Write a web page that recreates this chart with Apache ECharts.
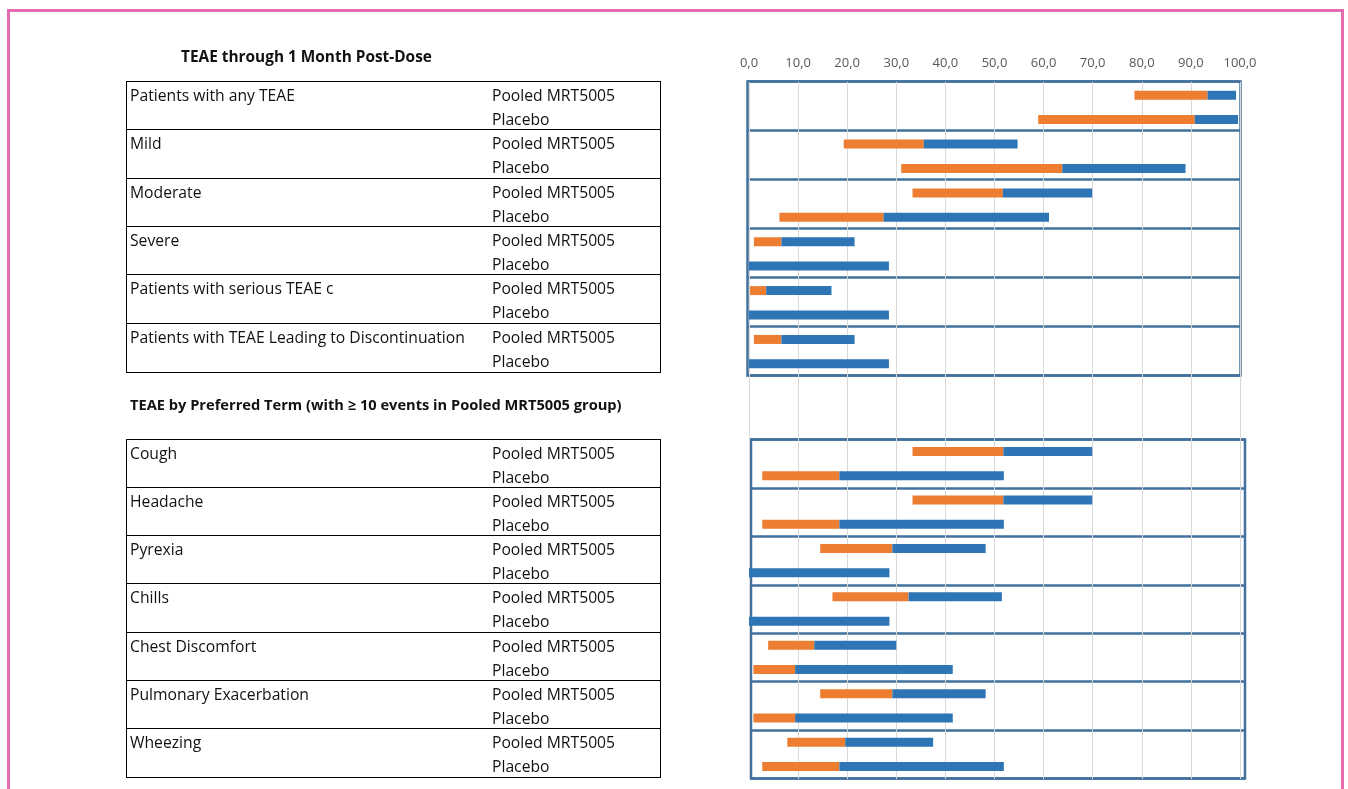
<!DOCTYPE html>
<html>
<head>
<meta charset="utf-8">
<script src="https://cdn.jsdelivr.net/npm/echarts@6/dist/echarts.min.js"></script>
<style>
  html, body { margin: 0; padding: 0; background: #fff; }
  #page { position: relative; width: 1348px; height: 789px; overflow: hidden; font-family: "Open Sans", sans-serif; color: #111; }
  #chart { position: absolute; left: 0; top: 0; width: 1348px; height: 789px; }
  #frame { position: absolute; left: 7px; top: 9px; width: 1331px; height: 800px; border: 3px solid #E46DAF; }
  .title { position: absolute; font-weight: bold; line-height: 20px; white-space: nowrap; }
  .tbl { position: absolute; border: 1px solid #000; box-sizing: border-box; }
  .row { position: absolute; left: 0; right: 0; box-sizing: border-box; }
  .row.sep { border-top: 1px solid #000; }
  .txt { position: absolute; font-size: 15.7px; line-height: 24px; white-space: nowrap; }
</style>
</head>
<body>
<div id="page">
  <div id="frame"></div>
  <div id="chart"></div>
</div>
<script>
// ---------------- DATA ----------------
const sectionTitles = ['TEAE through 1 Month Post-Dose', 'TEAE by Preferred Term (with \u2265 10 events in Pooled MRT5005 group)'];
const arms = ['Pooled MRT5005', 'Placebo'];
const xTicks = [0, 100, 10]; // min, max, interval

const groupsTop = ['Patients with any TEAE', 'Mild', 'Moderate', 'Severe', 'Patients with serious TEAE c', 'Patients with TEAE Leading to Discontinuation'];
const pooledTopLow  = [78.5, 19.3, 33.3, 1.0, 0.2, 1.0];
const pooledTopMid  = [93.4, 35.6, 51.7, 6.6, 3.5, 6.6];
const pooledTopHigh = [99.2, 54.7, 69.9, 21.5, 16.8, 21.5];
const placeboTopLow  = [58.9, 31.0, 6.2, 0, 0, 0];
const placeboTopMid  = [90.8, 63.8, 27.4, 0, 0, 0];
const placeboTopHigh = [99.6, 88.9, 61.1, 28.5, 28.5, 28.5];

const groupsBottom = ['Cough', 'Headache', 'Pyrexia', 'Chills', 'Chest Discomfort', 'Pulmonary Exacerbation', 'Wheezing'];
const pooledBotLow  = [33.3, 33.3, 14.5, 17.0, 3.9, 14.5, 7.8];
const pooledBotMid  = [51.8, 51.8, 29.2, 32.5, 13.3, 29.2, 19.6];
const pooledBotHigh = [69.9, 69.9, 48.2, 51.5, 30.0, 48.2, 37.5];
const placeboBotLow  = [2.7, 2.7, 0, 0, 0.9, 0.9, 2.7];
const placeboBotMid  = [18.4, 18.4, 0, 0, 9.4, 9.4, 18.4];
const placeboBotHigh = [51.9, 51.9, 28.6, 28.6, 41.5, 41.5, 51.9];

// ---------------- TABLE (HTML text) ----------------
const page = document.getElementById('page');
function addTitle(text, left, top, size) {
  const d = document.createElement('div');
  d.className = 'title'; d.textContent = text;
  d.style.left = left + 'px'; d.style.top = top + 'px'; d.style.fontSize = size + 'px';
  page.appendChild(d);
}
function addTable(groups, left, top, width, height) {
  const t = document.createElement('div');
  t.className = 'tbl';
  t.style.left = left + 'px'; t.style.top = top + 'px';
  t.style.width = width + 'px'; t.style.height = height + 'px';
  const rowH = (height - 2) / groups.length;
  groups.forEach((g, i) => {
    const r = document.createElement('div');
    r.className = 'row' + (i > 0 ? ' sep' : '');
    r.style.top = (i * rowH - (i > 0 ? 1 : 0)) + 'px';
    r.style.height = rowH + 'px';
    const a = document.createElement('div');
    a.className = 'txt'; a.textContent = g; a.style.left = '3px'; a.style.top = '1px';
    r.appendChild(a);
    arms.forEach((arm, j) => {
      const b = document.createElement('div');
      b.className = 'txt'; b.textContent = arm;
      b.style.left = '365px'; b.style.top = (1 + j * 24) + 'px';
      r.appendChild(b);
    });
    t.appendChild(r);
  });
  page.appendChild(t);
}
addTitle(sectionTitles[0], 181, 47, 15.4);
addTitle(sectionTitles[1], 130, 394, 14.65);
addTable(groupsTop, 126, 81, 535, 292);
addTable(groupsBottom, 126, 439, 535, 339);

// ---------------- CHART ----------------
const ORANGE = '#ED7D31', BLUE = '#2E75B6', BOX = '#41719C';
const chart = echarts.init(document.getElementById('chart'), null, { renderer: 'canvas' });

function diff(a, b) { return a.map((v, i) => +(v - b[i]).toFixed(2)); }
function rangeSeries(axisIdx, stack, low, mid, high) {
  const common = { type: 'bar', xAxisIndex: axisIdx, yAxisIndex: axisIdx, stack: stack, barWidth: 9, barGap: '170%', silent: true };
  return [
    Object.assign({}, common, { name: stack + '-base', data: low, itemStyle: { color: 'transparent' } }),
    Object.assign({}, common, { name: stack + '-lower', data: diff(mid, low), itemStyle: { color: ORANGE } }),
    Object.assign({}, common, { name: stack + '-upper', data: diff(high, mid), itemStyle: { color: BLUE } })
  ];
}

const boxYAxis = (gi, data) => ({
  gridIndex: gi, type: 'category', data: data, inverse: true,
  axisLabel: { show: false }, axisTick: { show: false }, axisLine: { show: false },
  splitLine: { show: true, lineStyle: { color: BOX, width: 2.5 } }
});
const hiddenX = (gi, min, max) => ({ gridIndex: gi, type: 'value', min: min, max: max, show: false });

const option = {
  animation: false,
  grid: [
    { left: 749, top: 82, width: 491, height: 697 },                                   // gridlines
    { left: 747.5, top: 81.5, width: 493, height: 294, show: true, borderColor: BOX, borderWidth: 2.5, backgroundColor: 'transparent' },
    { left: 751, top: 439.5, width: 494, height: 339, show: true, borderColor: BOX, borderWidth: 2.5, backgroundColor: 'transparent' },
    { left: 749, top: 83, width: 491, height: 293 },                                   // bars top
    { left: 749, top: 439.5, width: 491, height: 339 }                                 // bars bottom
  ],
  xAxis: [
    { gridIndex: 0, type: 'value', position: 'top', min: xTicks[0], max: xTicks[1], interval: xTicks[2],
      axisLine: { show: false }, axisTick: { show: false },
      axisLabel: { margin: 12, color: '#595959', fontSize: 13, fontFamily: '"Open Sans", sans-serif',
        formatter: v => v.toFixed(1).replace('.', ',') },
      splitLine: { show: true, lineStyle: { color: '#D9D9D9', width: 1 } } },
    hiddenX(1, 0, 1),
    hiddenX(2, 0, 1),
    hiddenX(3, xTicks[0], xTicks[1]),
    hiddenX(4, xTicks[0], xTicks[1])
  ],
  yAxis: [
    { gridIndex: 0, type: 'category', data: [''], show: false },
    boxYAxis(1, groupsTop),
    boxYAxis(2, groupsBottom),
    { gridIndex: 3, type: 'category', data: groupsTop, inverse: true, show: false },
    { gridIndex: 4, type: 'category', data: groupsBottom, inverse: true, show: false }
  ],
  series: [].concat(
    rangeSeries(3, 'pooledTop', pooledTopLow, pooledTopMid, pooledTopHigh),
    rangeSeries(3, 'placeboTop', placeboTopLow, placeboTopMid, placeboTopHigh),
    rangeSeries(4, 'pooledBot', pooledBotLow, pooledBotMid, pooledBotHigh),
    rangeSeries(4, 'placeboBot', placeboBotLow, placeboBotMid, placeboBotHigh)
  )
};
chart.setOption(option);
</script>
</body>
</html>
